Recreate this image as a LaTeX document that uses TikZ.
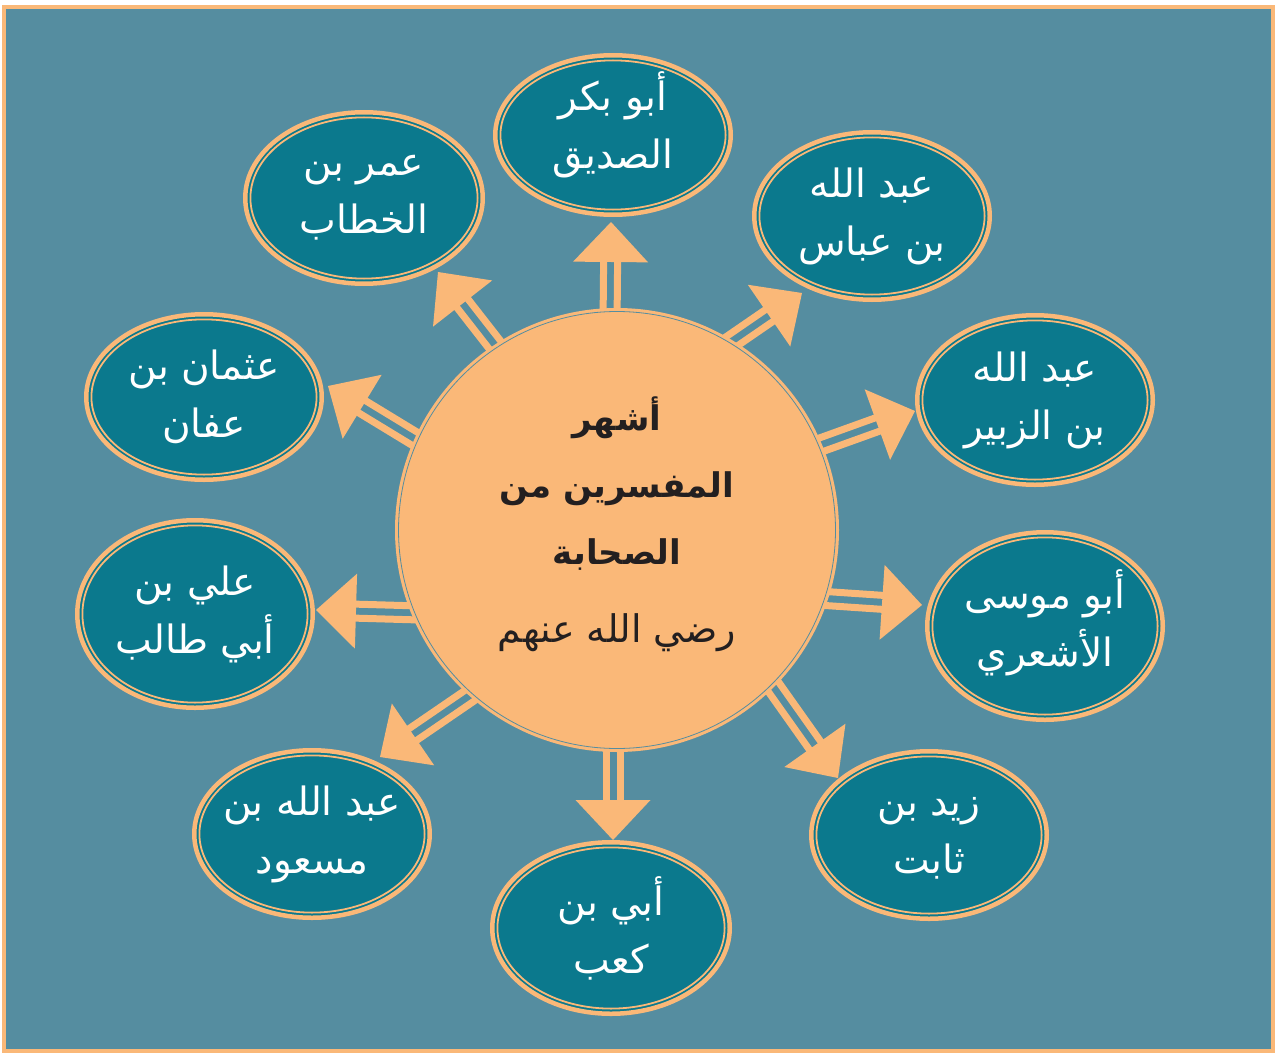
\documentclass[tikz,border=0pt]{standalone}
\usepackage{fontspec}
\usetikzlibrary{calc,shapes.geometric}
\TeXXeTstate=1
\newfontfamily\arabicfont[Script=Arabic]{DejaVu Sans}
\definecolor{bgc}{RGB}{85,141,160}
\definecolor{tealc}{RGB}{11,121,141}
\definecolor{orc}{RGB}{250,184,120}
\definecolor{darkc}{RGB}{35,31,32}
\newcommand{\ar}[1]{{\arabicfont\beginR #1\endR}}
\newcommand{\person}[6][0]{%
  \node[person, minimum width={2*#4-4.5}, minimum height={2*#5-4.5}] (#2) at (#3) {};
  \draw[orc, line width=1.8pt] (#2.center) ellipse [x radius={#4-7.4}, y radius={#5-7.4}];
  \node[ptext] (#2-text) at ([yshift=#1pt]#2.center) {#6};
}
\newcommand{\dblarrow}[2]{%
  \coordinate (tmpb) at ($(#2)!40pt!(#1)$);
  \coordinate (tmpe) at ($(#2)!38pt!(#1)$);
  \draw[shaft] ($(#1)!7pt!90:(tmpe)$) -- ($(tmpe)!7pt!-90:(#1)$);
  \draw[shaft] ($(#1)!7pt!-90:(tmpe)$) -- ($(tmpe)!7pt!90:(#1)$);
  \fill[orc] ($(tmpb)!37.5pt!90:(#2)$) -- (#2) -- ($(tmpb)!37.5pt!-90:(#2)$) -- cycle;
}
\begin{document}
\begin{tikzpicture}[x=1pt,y=-1pt,
  person/.style={ellipse, fill=tealc, draw=orc, line width=4.5pt, inner sep=0pt},
  ptext/.style={text=white, align=center, inner sep=0pt, font=\fontsize{39}{58}\selectfont},
  hub/.style={circle, fill=orc, inner sep=0pt, minimum size=444pt},
  shaft/.style={orc, line width=7pt}
  ]
\useasboundingbox (0,0) rectangle (1279,1054);
\fill[white] (0,0) rectangle (1279,1054);
\draw[orc, line width=4pt, fill=bgc] (4,7) rectangle (1273,1051);

% people
\person[10]{p1}{613,135}{120}{82}{\ar{أبو بكر}\\\ar{الصديق}}
\person{p2}{872,216}{120}{86}{\ar{عبد الله}\\\ar{بن عباس}}
\person{p3}{1035,400}{120}{87}{\ar{عبد الله}\\\ar{بن الزبير}}
\person[3]{p4}{1045,626}{120}{96}{\ar{أبو موسى}\\\ar{الأشعري}}
\person[-3]{p5}{929,835}{120}{86}{\ar{زيد بن}\\\ar{ثابت}}
\person{p6}{611,928}{121}{88}{\ar{أبي بن}\\\ar{كعب}}
\person{p7}{312,834}{120}{86}{\ar{عبد الله بن}\\\ar{مسعود}}
\person{p8}{195,614}{120}{96}{\ar{علي بن}\\\ar{أبي طالب}}
\person{p9}{204,397}{120}{85}{\ar{عثمان بن}\\\ar{عفان}}
\person{p10}{364,198}{121}{88}{\ar{عمر بن}\\\ar{الخطاب}}

% arrow ends
\coordinate (s1) at (610,325);  \coordinate (t1) at (611,222);
\coordinate (s2) at (722,348);  \coordinate (t2) at (802,293);
\coordinate (s3) at (815,447);  \coordinate (t3) at (915,411);
\coordinate (s4) at (818,598);  \coordinate (t4) at (922,605);
\coordinate (s5) at (770,682);  \coordinate (t5) at (838,778);
\coordinate (s6) at (613,740);  \coordinate (t6) at (613,840);
\coordinate (s7) at (472,694);  \coordinate (t7) at (380,757);
\coordinate (s8) at (420,613);  \coordinate (t8) at (316,610);
\coordinate (s9) at (420,442);  \coordinate (t9) at (328,386);
\coordinate (s10) at (502,354); \coordinate (t10) at (438,272);

\foreach \i in {1,...,10} {\dblarrow{s\i}{t\i}}

% hub
\node[hub] (hub) at (617,530) {};
\draw[bgc, line width=0.8pt] (hub.center) circle [radius=218.5];
\node[text=darkc, align=center, inner sep=0pt, font=\fontsize{34}{67}\selectfont] (title) at (617,484)
  {\bfseries\ar{أشهر}\\\bfseries\ar{المفسرين من}\\\bfseries\ar{الصحابة}};
\node[text=darkc, inner sep=0pt, font=\fontsize{38}{40}\selectfont] (sub) at (617,633) {\ar{رضي الله عنهم}};
\end{tikzpicture}
\end{document}
